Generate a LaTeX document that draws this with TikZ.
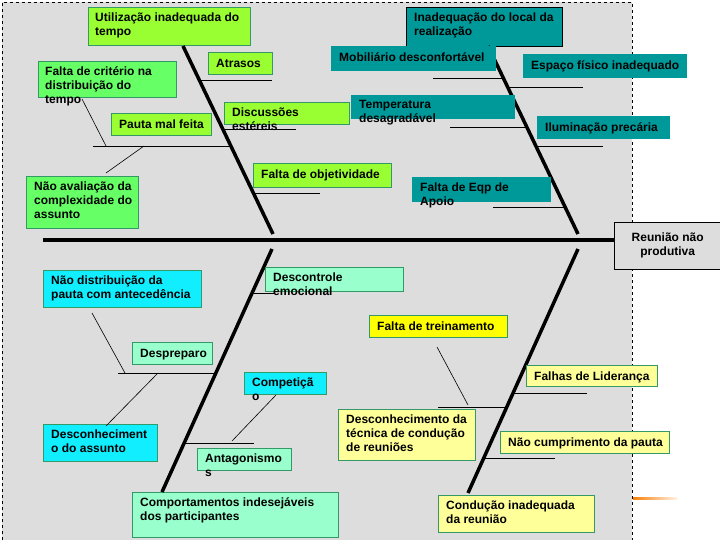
\documentclass[tikz,border=0pt]{standalone}
\usepackage{fontspec}
\setmainfont{Liberation Sans}
\usetikzlibrary{calc}
\definecolor{bggray}{HTML}{DDDDDD}
\definecolor{limeg}{HTML}{99FF33}
\definecolor{leaf}{HTML}{66FF66}
\definecolor{tealb}{HTML}{009999}
\definecolor{mint}{HTML}{99FFCC}
\definecolor{aqua}{HTML}{11EEFF}
\definecolor{yel}{HTML}{FFFF00}
\definecolor{paley}{HTML}{FFFF99}
\definecolor{edge}{HTML}{339966}
\begin{document}
\begin{tikzpicture}[x=1pt, y=-1pt,
	every node/.style={font=\bfseries\fontsize{12}{14}\selectfont},
	cause/.style n args={2}{draw=edge, anchor=north west, minimum width=#1,
		minimum height=#2, inner sep=0pt},
	txt/.style={anchor=north west, align=left, inner sep=0pt,
		execute at begin node={\rule{0pt}{10pt}}, xshift=8pt, yshift=-5.5pt},
	bone/.style={line width=3.5pt},
	twig/.style={line width=0.8pt},
	stem/.style={line width=0.6pt} ]
	\useasboundingbox (0,0) rectangle (720,540);
	\fill[bggray] (2,2) rectangle (632,540);
	\draw[dashed, line width=0.8pt] (2,540) -- (2,2) -- (632,2) -- (632,540);
	\shade[left color=orange!90!brown, right color=orange!10] (633,497) rectangle (677,499.5);

	% head and spine
	\node[cause={107}{47}, draw=black, fill=bggray, label={[txt, anchor=north, align=center,
		xshift=-8pt, yshift=-5pt]north:Reunião não\\produtiva}] (reuniao) at (614,222) {};
	\coordinate (tail) at (43,240);
	\draw[bone] (tail) -- (tail -| reuniao.west);

	% top causes
	\node[cause={162}{38}, fill=limeg, label={[txt,xshift=-1pt]north west:Utilização inadequada do\\tempo}] (tempo) at (88,7) {};
	\node[cause={156}{39}, draw=black, fill=tealb, label={[txt]north west:Inadequação do local da\\realização}] (local) at (406,7) {};
	\coordinate (t1) at (183,46);
	\coordinate (h1) at (273,234);
	\coordinate (t2) at (488,46);
	\coordinate (h2) at (578,234);
	\draw[bone] (t1) -- (h1);
	\draw[bone] (t2) -- (h2);

	\node[cause={138}{36}, fill=leaf, label={[txt,xshift=-1pt]north west:Falta de critério na\\distribuição do\\tempo}] (criterio) at (38,61) {};
	\node[cause={64}{22}, fill=limeg, label={[txt]north west:Atrasos}] (atrasos) at (208,52) {};
	\node[cause={100}{22}, fill=limeg, label={[txt]north west:Pauta mal feita}] (pauta) at (111,113) {};
	\node[cause={125}{22}, fill=limeg, label={[txt]north west:Discussões\\estéreis}] (discussoes) at (224,102) {};
	\node[cause={138}{24}, fill=limeg, label={[txt]north west:Falta de objetividade}] (objetividade) at (253,163) {};
	\node[cause={112}{52}, fill=leaf, label={[txt]north west:Não avaliação da\\complexidade do\\assunto}] (avaliacao) at (26,176) {};

	\node[cause={164}{24}, draw=tealb, fill=tealb, label={[txt]north west:Mobiliário desconfortável}] (mobiliario) at (331,46) {};
	\node[cause={163}{23}, draw=tealb, fill=tealb, label={[txt]north west:Espaço físico inadequado}] (espaco) at (523,54) {};
	\node[cause={163}{23}, draw=tealb, fill=tealb, label={[txt]north west:Temperatura\\desagradável}] (temperatura) at (351,95) {};
	\node[cause={132}{22}, draw=tealb, fill=tealb, label={[txt]north west:Iluminação precária}] (iluminacao) at (537,116) {};
	\node[cause={138}{24}, draw=tealb, fill=tealb, label={[txt]north west:Falta de Eqp de\\Apoio}] (eqp) at (412,177) {};

	\draw[twig] ($(t1)!.181!(h1)$) -- +(73,0);
	\draw[twig] ($(t1)!.532!(h1)$) -- +(-138,0);
	\draw[twig] ($(t1)!.441!(h1)$) -- +(73,0);
	\draw[twig] ($(t1)!.782!(h1)$) -- +(67,0);
	\draw[twig] ($(t2)!.170!(h2)$) -- +(-70,0);
	\draw[twig] ($(t2)!.218!(h2)$) -- +(75,0);
	\draw[twig] ($(t2)!.431!(h2)$) -- +(-77,0);
	\draw[twig] ($(t2)!.532!(h2)$) -- +(67,0);
	\draw[twig] ($(t2)!.856!(h2)$) -- +(-72,0);
	\coordinate (s1) at (82,99);
	\coordinate (s2) at (106,146);
	\coordinate (s3) at (144,146);
	\coordinate (s4) at (106,173);
	\draw[stem] (s1) -- (s2);
	\draw[stem] (s3) -- (s4);

	% bottom causes
	\node[cause={206}{45}, fill=mint, label={[txt]north west:Comportamentos indesejáveis\\dos participantes}] (comportamentos) at (132,492) {};
	\node[cause={156}{37}, fill=paley, label={[txt]north west:Condução inadequada\\da reunião}] (conducao) at (438,495) {};
	\coordinate (h3) at (272,249);
	\coordinate (t3) at (162,492);
	\coordinate (h4) at (578,249);
	\coordinate (t4) at (468,493);
	\draw[bone] (h3) -- (t3);
	\draw[bone] (h4) -- (t4);

	\node[cause={158}{37}, fill=aqua, label={[txt]north west:Não distribuição da\\pauta com antecedência}] (distribuicao) at (43,270) {};
	\node[cause={138}{24}, fill=mint, label={[txt]north west:Descontrole\\emocional}] (descontrole) at (265,267) {};
	\node[cause={80}{22}, fill=mint, label={[txt]north west:Despreparo}] (despreparo) at (132,342) {};
	\node[cause={114}{37}, fill=aqua, label={[txt]north west:Desconheciment\\o do assunto}] (assunto) at (43,424) {};
	\node[cause={82}{22}, fill=aqua, label={[txt]north west:Competiçã\\o}] (competicao) at (244,372) {};
	\node[cause={94}{22}, fill=mint, label={[txt]north west:Antagonismo\\s}] (antagonismo) at (197,448) {};

	\node[cause={138}{22}, fill=yel, label={[txt]north west:Falta de treinamento}] (treinamento) at (369,315) {};
	\node[cause={131}{21}, fill=paley, label={[txt]north west:Falhas de Liderança}] (falhas) at (526,365) {};
	\node[cause={137}{51}, fill=paley, label={[txt]north west:Desconhecimento da\\técnica de condução\\de reuniões}] (tecnica) at (338,409) {};
	\node[cause={169}{22}, fill=paley, label={[txt]north west:Não cumprimento da pauta}] (cumprimento) at (500,431) {};

	\draw[twig] ($(h3)!.181!(t3)$) -- +(23,0);
	\draw[twig] ($(h3)!.510!(t3)$) -- +(-98,0);
	\draw[twig] ($(h3)!.802!(t3)$) -- +(70,0);
	\draw[twig] ($(h4)!.590!(t4)$) -- +(74,0);
	\draw[twig] ($(h4)!.648!(t4)$) -- +(-69,0);
	\draw[twig] ($(h4)!.857!(t4)$) -- +(71,0);
	\coordinate (s5) at (92,313);
	\coordinate (s6) at (125,373);
	\coordinate (s7) at (158,373);
	\coordinate (s8) at (106,426);
	\coordinate (s9) at (276,395);
	\coordinate (s10) at (232,441);
	\coordinate (s11) at (437,347);
	\coordinate (s12) at (468,405);
	\draw[stem] (s5) -- (s6);
	\draw[stem] (s7) -- (s8);
	\draw[stem] (s9) -- (s10);
	\draw[stem] (s11) -- (s12);
\end{tikzpicture}
\end{document}
